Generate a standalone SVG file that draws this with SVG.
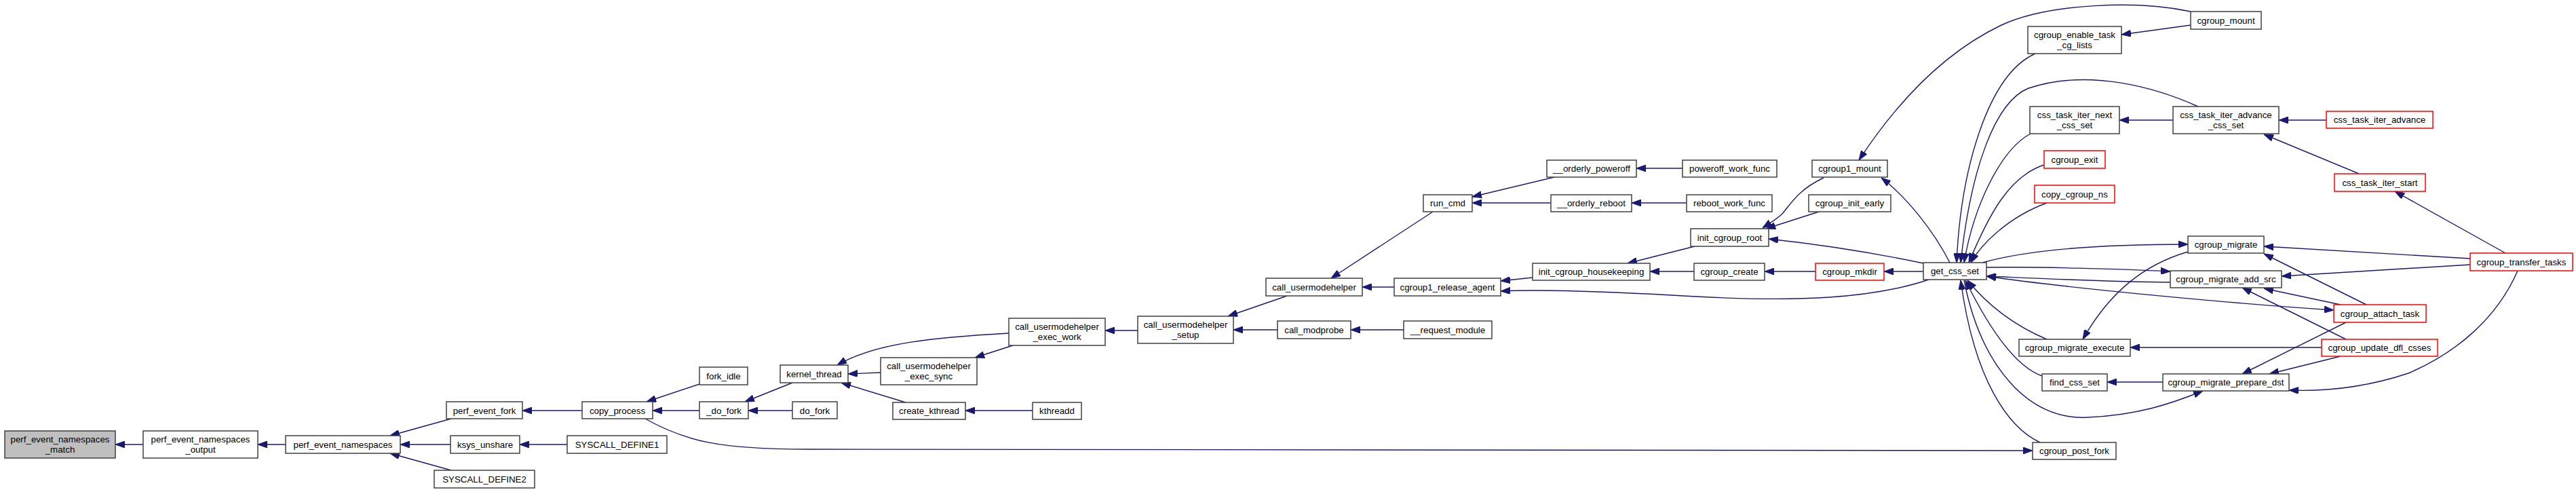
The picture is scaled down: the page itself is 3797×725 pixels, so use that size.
<svg xmlns="http://www.w3.org/2000/svg" width="3797" height="725" viewBox="0 0 3797 725">
<defs>
<marker id="a" viewBox="0 0 14 10" refX="14" refY="5" markerWidth="14" markerHeight="10" markerUnits="userSpaceOnUse" orient="auto-start-reverse"><path d="M0,0 L14,5 L0,10 z" fill="#191970" stroke="#191970"/></marker>
</defs>
<style>
rect{fill:#fff;stroke:#404040;stroke-width:1.5}
.r rect{stroke:#ff0000}
.g rect{fill:#bfbfbf}
text{font-family:"Liberation Sans",Arial,sans-serif;font-size:13.33px;text-anchor:middle;fill:#000}
#edges path{fill:none;stroke:#191970;stroke-width:1.4;marker-end:url(#a)}
#edges path.b{marker-start:url(#a)}
</style>
<rect width="3797" height="725" style="fill:#fff;stroke:none"/>
<g id="edges">
<path d="M211,655 L170,655"/>
<path d="M421,655 L380,655"/>
<path d="M665,617 L575,642"/>
<path d="M664,655 L590,655"/>
<path d="M665,693 L575,668"/>
<path d="M858,605 L770,605"/>
<path d="M836,655 L766,655"/>
<path d="M1031,566 L953,592"/>
<path d="M1031,605 L962,605"/>
<path d="M1168,605 L1103,605"/>
<path d="M1168,564 L1098,592"/>
<path d="M1298,549 L1250,551"/>
<path d="M1487,491 C1380,497 1290,505 1234,538"/>
<path d="M1335,593 L1240,564"/>
<path d="M1522,605 L1423,605"/>
<path d="M1493,509 L1437,527"/>
<path d="M1677,487 L1629,487"/>
<path d="M1897,436 L1810,466"/>
<path d="M1883,486 L1818,486"/>
<path d="M2069,486 L1991,486"/>
<path d="M2112,312 L1962,410"/>
<path d="M2055,423 L2008,423"/>
<path d="M2291,261 L2170,290"/>
<path d="M2286,299 L2170,299"/>
<path d="M2480,248 L2412,248"/>
<path d="M2486,299 L2405,299"/>
<path d="M2259,409 L2212,414"/>
<path d="M2843,412 C2760,440 2650,445 2500,437 C2350,428 2260,427 2212,429"/>
<path d="M2835,388 C2750,370 2680,360 2607,352"/>
<path d="M2498,363 L2399,388"/>
<path d="M2497,400 L2432,400"/>
<path d="M2676,400 L2601,400"/>
<path d="M2835,400 L2777,400"/>
<path d="M2688,262 C2650,280 2640,300 2627,315 C2620,322 2610,328 2598,336"/>
<path d="M2681,312 L2603,337"/>
<path d="M2874,387 C2850,340 2810,290 2773,262"/>
<path d="M3229,17 C3150,0 3020,5 2950,37 C2860,80 2790,160 2740,236"/>
<path d="M3229,37 L3127,51"/>
<path d="M3000,79 C2930,110 2890,250 2884,387"/>
<path d="M3240,157 C3180,130 3080,100 2990,130 C2940,150 2905,250 2890,387"/>
<path d="M2993,197 C2950,220 2910,300 2895,387"/>
<path d="M3013,243 C2960,260 2930,320 2902,387"/>
<path d="M3017,299 C2960,320 2920,360 2905,387"/>
<path d="M2922,387 C3000,365 3120,360 3225,360"/>
<path d="M2928,394 C3000,393 3120,396 3199,400"/>
<path d="M3199,416 C3100,415 3000,410 2928,407"/>
<path class="b" d="M2928,407 C3050,425 3300,448 3440,457"/>
<path d="M3225,371 C3160,390 3110,430 3070,500"/>
<path d="M3017,500 C2970,480 2930,450 2900,413"/>
<path d="M3010,554 C2970,540 2930,480 2897,413"/>
<path d="M2895,413 C2920,540 2990,620 3077,615 C3150,612 3200,595 3247,576"/>
<path d="M3007,652 C2960,630 2910,560 2890,413"/>
<path d="M3422,512 L3140,512"/>
<path d="M3188,563 L3106,563"/>
<path d="M3458,475 L3305,551"/>
<path d="M3450,525 L3345,551"/>
<path d="M3711,399 C3680,470 3620,520 3550,550 C3490,570 3430,577 3374,575"/>
<path d="M3641,381 L3337,363"/>
<path d="M3641,390 L3363,407"/>
<path d="M3693,373 L3530,282"/>
<path d="M3477,256 L3337,198"/>
<path d="M3429,177 L3359,177"/>
<path d="M3203,177 L3124,177"/>
<path d="M3488,449 L3337,374"/>
<path d="M3450,449 L3337,425"/>
<path d="M3458,500 L3305,424"/>
<path d="M951,617 C1010,650 1060,662 1190,662 L2996,664"/>
</g>
<g id="n1" class="g"><rect x="7" y="635" width="163" height="40"/><text x="88.5" y="652">perf_event_namespaces</text><text x="88.5" y="667">_match</text></g>
<g id="n2"><rect x="211" y="635" width="169" height="40"/><text x="295.5" y="652">perf_event_namespaces</text><text x="295.5" y="667">_output</text></g>
<g id="n3"><rect x="421" y="642" width="169" height="26"/><text x="505.5" y="660">perf_event_namespaces</text></g>
<g id="n4"><rect x="658" y="592" width="112" height="25"/><text x="714" y="610">perf_event_fork</text></g>
<g id="n5"><rect x="664" y="642" width="102" height="26"/><text x="715" y="660">ksys_unshare</text></g>
<g id="n6"><rect x="640" y="693" width="148" height="26"/><text x="714" y="711">SYSCALL_DEFINE2</text></g>
<g id="n7"><rect x="858" y="592" width="104" height="25"/><text x="910" y="610">copy_process</text></g>
<g id="n8"><rect x="836" y="642" width="147" height="26"/><text x="909.5" y="660">SYSCALL_DEFINE1</text></g>
<g id="n9"><rect x="1031" y="541" width="71" height="26"/><text x="1066.5" y="559">fork_idle</text></g>
<g id="n10"><rect x="1031" y="592" width="72" height="25"/><text x="1067" y="610">_do_fork</text></g>
<g id="n11"><rect x="1168" y="592" width="66" height="25"/><text x="1201" y="610">do_fork</text></g>
<g id="n12"><rect x="1150" y="538" width="100" height="26"/><text x="1200" y="556">kernel_thread</text></g>
<g id="n13"><rect x="1298" y="527" width="142" height="40"/><text x="1369" y="544">call_usermodehelper</text><text x="1369" y="559">_exec_sync</text></g>
<g id="n14"><rect x="1316" y="593" width="107" height="25"/><text x="1369.5" y="610">create_kthread</text></g>
<g id="n15"><rect x="1522" y="593" width="72" height="25"/><text x="1558" y="610">kthreadd</text></g>
<g id="n16"><rect x="1487" y="469" width="142" height="40"/><text x="1558" y="486">call_usermodehelper</text><text x="1558" y="501">_exec_work</text></g>
<g id="n17"><rect x="1677" y="466" width="141" height="40"/><text x="1747.5" y="483">call_usermodehelper</text><text x="1747.5" y="498">_setup</text></g>
<g id="n18"><rect x="1866" y="410" width="142" height="26"/><text x="1937" y="428">call_usermodehelper</text></g>
<g id="n19"><rect x="1883" y="473" width="108" height="26"/><text x="1937" y="491">call_modprobe</text></g>
<g id="n20"><rect x="2069" y="473" width="130" height="26"/><text x="2134" y="491">__request_module</text></g>
<g id="n21"><rect x="2098" y="287" width="72" height="25"/><text x="2134" y="304">run_cmd</text></g>
<g id="n22"><rect x="2055" y="410" width="157" height="26"/><text x="2133.5" y="428">cgroup1_release_agent</text></g>
<g id="n23"><rect x="2280" y="236" width="132" height="25"/><text x="2346" y="253">__orderly_poweroff</text></g>
<g id="n24"><rect x="2286" y="287" width="119" height="25"/><text x="2345.5" y="304">__orderly_reboot</text></g>
<g id="n25"><rect x="2259" y="388" width="173" height="25"/><text x="2345.5" y="405">init_cgroup_housekeeping</text></g>
<g id="n26"><rect x="2480" y="236" width="139" height="25"/><text x="2549.5" y="253">poweroff_work_func</text></g>
<g id="n27"><rect x="2486" y="287" width="126" height="25"/><text x="2549" y="304">reboot_work_func</text></g>
<g id="n28"><rect x="2492" y="337" width="115" height="26"/><text x="2549.5" y="355">init_cgroup_root</text></g>
<g id="n29"><rect x="2497" y="388" width="104" height="25"/><text x="2549" y="405">cgroup_create</text></g>
<g id="n30"><rect x="2671" y="236" width="111" height="25"/><text x="2726.5" y="253">cgroup1_mount</text></g>
<g id="n31"><rect x="2666" y="287" width="121" height="25"/><text x="2726.5" y="304">cgroup_init_early</text></g>
<g id="n32" class="r"><rect x="2676" y="388" width="101" height="25"/><text x="2726.5" y="405">cgroup_mkdir</text></g>
<g id="n33"><rect x="2835" y="387" width="93" height="25"/><text x="2881.5" y="404">get_css_set</text></g>
<g id="n34"><rect x="2989" y="39" width="138" height="40"/><text x="3058" y="56">cgroup_enable_task</text><text x="3058" y="71">_cg_lists</text></g>
<g id="n35"><rect x="2992" y="157" width="132" height="40"/><text x="3058" y="174">css_task_iter_next</text><text x="3058" y="189">_css_set</text></g>
<g id="n36" class="r"><rect x="3013" y="222" width="90" height="26"/><text x="3058" y="240">cgroup_exit</text></g>
<g id="n37" class="r"><rect x="2999" y="273" width="118" height="26"/><text x="3058" y="291">copy_cgroup_ns</text></g>
<g id="n38"><rect x="2976" y="500" width="164" height="25"/><text x="3058" y="517">cgroup_migrate_execute</text></g>
<g id="n39"><rect x="3010" y="551" width="96" height="25"/><text x="3058" y="568">find_css_set</text></g>
<g id="n40"><rect x="2996" y="652" width="123" height="25"/><text x="3057.5" y="669">cgroup_post_fork</text></g>
<g id="n41"><rect x="3229" y="17" width="104" height="26"/><text x="3281" y="35">cgroup_mount</text></g>
<g id="n42"><rect x="3203" y="157" width="156" height="40"/><text x="3281" y="174">css_task_iter_advance</text><text x="3281" y="189">_css_set</text></g>
<g id="n43"><rect x="3225" y="348" width="112" height="25"/><text x="3281" y="365">cgroup_migrate</text></g>
<g id="n44"><rect x="3199" y="399" width="164" height="25"/><text x="3281" y="416">cgroup_migrate_add_src</text></g>
<g id="n45"><rect x="3188" y="551" width="186" height="25"/><text x="3281" y="568">cgroup_migrate_prepare_dst</text></g>
<g id="n46" class="r"><rect x="3429" y="164" width="157" height="25"/><text x="3507.5" y="181">css_task_iter_advance</text></g>
<g id="n47" class="r"><rect x="3441" y="256" width="134" height="26"/><text x="3508" y="274">css_task_iter_start</text></g>
<g id="n48" class="r"><rect x="3440" y="449" width="136" height="26"/><text x="3508" y="467">cgroup_attach_task</text></g>
<g id="n49" class="r"><rect x="3422" y="500" width="171" height="25"/><text x="3507.5" y="517">cgroup_update_dfl_csses</text></g>
<g id="n50" class="r"><rect x="3641" y="373" width="151" height="26"/><text x="3716.5" y="391">cgroup_transfer_tasks</text></g>
</svg>
